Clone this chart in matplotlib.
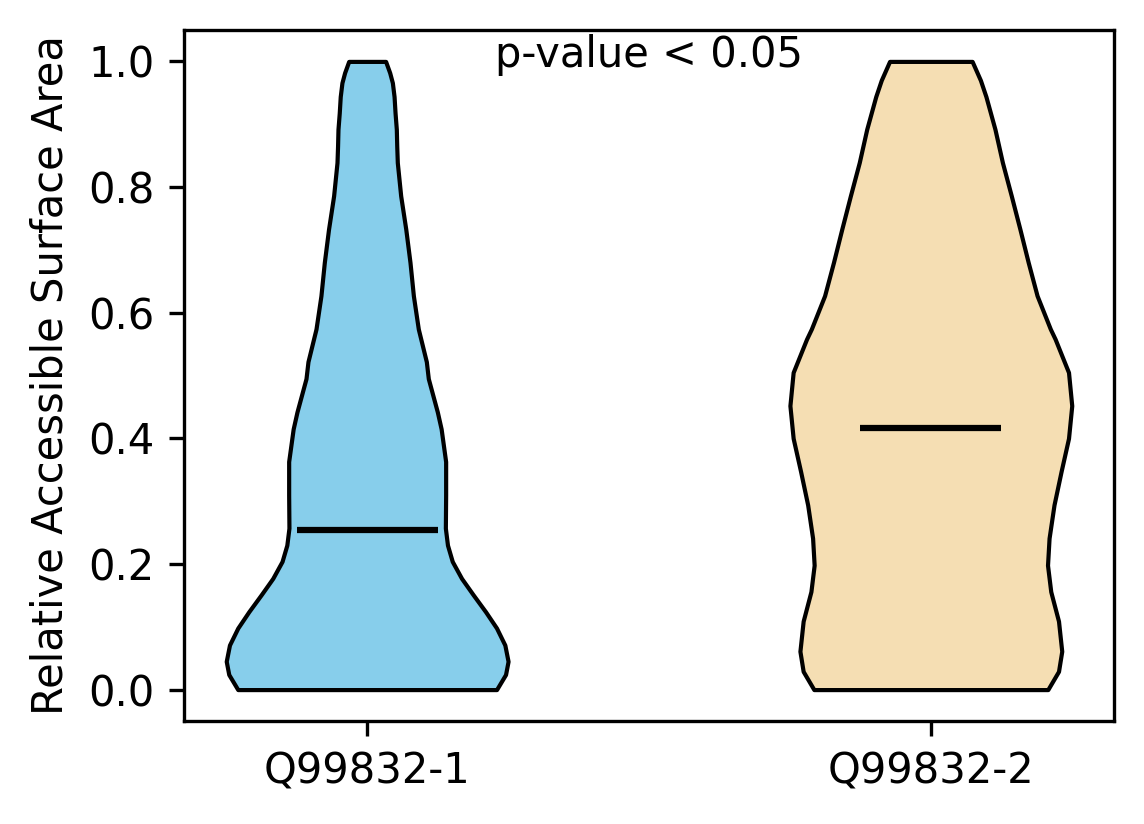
import matplotlib
matplotlib.use("Agg")
import matplotlib.pyplot as plt

# isoform names and group means
labels = ["Q99832-1", "Q99832-2"]
means = [0.254, 0.417]

# density outlines (relative width, max = 1)
rsa_1 = [0.000, 0.024, 0.045, 0.071, 0.098, 0.124, 0.151, 0.177, 0.204, 0.230,
         0.257, 0.310, 0.363, 0.415, 0.442, 0.495, 0.522, 0.574, 0.627, 0.680,
         0.733, 0.786, 0.839, 0.865, 0.892, 0.918, 0.944, 0.966, 0.982, 1.000]
dens_1 = [0.918, 0.982, 1.000, 0.977, 0.918, 0.840, 0.752, 0.670, 0.604, 0.570,
          0.555, 0.557, 0.557, 0.525, 0.498, 0.434, 0.420, 0.363, 0.328, 0.304,
          0.274, 0.238, 0.214, 0.210, 0.207, 0.198, 0.191, 0.179, 0.160, 0.131]

rsa_2 = [0.000, 0.029, 0.061, 0.109, 0.156, 0.198, 0.241, 0.294, 0.347, 0.400,
         0.452, 0.505, 0.558, 0.574, 0.627, 0.680, 0.733, 0.786, 0.839, 0.892,
         0.944, 0.970, 1.000]
dens_2 = [0.830, 0.906, 0.929, 0.906, 0.851, 0.828, 0.839, 0.874, 0.924, 0.977,
          1.000, 0.977, 0.882, 0.848, 0.754, 0.691, 0.632, 0.571, 0.508, 0.455,
          0.391, 0.352, 0.293]

colors = ["skyblue", "wheat"]

stats = []
for coords, vals, m in [(rsa_1, dens_1, means[0]), (rsa_2, dens_2, means[1])]:
    stats.append({"coords": coords, "vals": vals, "mean": m,
                  "median": m, "min": min(coords), "max": max(coords)})

fig = plt.figure(figsize=(1144 / 300, 824 / 300), dpi=300)
ax = fig.add_axes([0.1608, 0.125, 0.8130, 0.8386])

parts = ax.violin(stats, positions=[1, 2], widths=0.5,
                  showmeans=True, showextrema=False, showmedians=False)
for body, c in zip(parts["bodies"], colors):
    body.set_facecolor(c)
    body.set_edgecolor("black")
    body.set_linewidth(1)
    body.set_alpha(1)
    body.set_joinstyle("round")
parts["cmeans"].set_color("black")
parts["cmeans"].set_linewidth(1.5)

ax.set_xticks([1, 2], labels)
ax.set_ylabel("Relative Accessible Surface Area")
ax.text(1.5, 1.01, "p-value < 0.05", ha="center", va="center")

fig.savefig("out.png", dpi=300)
